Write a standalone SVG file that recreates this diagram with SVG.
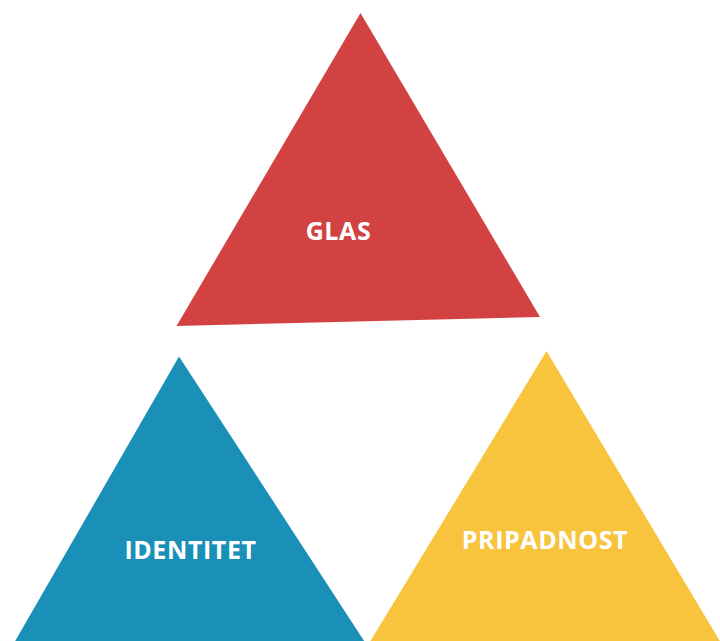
<svg xmlns="http://www.w3.org/2000/svg" width="720" height="641" viewBox="0 0 720 641">
<style>
.lbl{font-family:"Open Sans","Noto Sans","Liberation Sans",sans-serif;font-weight:700;font-size:25px;fill:#ffffff;text-anchor:middle;letter-spacing:0.6px}
</style>
<rect width="720" height="641" fill="#ffffff"/>
<g id="glas">
<polygon points="360.5,13 540,317 176.5,326" fill="#D34243"/>
<text class="lbl" x="338.5" y="240">GLAS</text>
</g>
<g id="identitet">
<polygon points="179,356.5 370,650 10,650" fill="#1A90B8"/>
<text class="lbl" x="190.5" y="559">IDENTITET</text>
</g>
<g id="pripadnost">
<polygon points="546.5,351 730,658 365,650" fill="#F8C43E"/>
<text class="lbl" x="545" y="549">PRIPADNOST</text>
</g>
<g id="connectors"/>
</svg>
